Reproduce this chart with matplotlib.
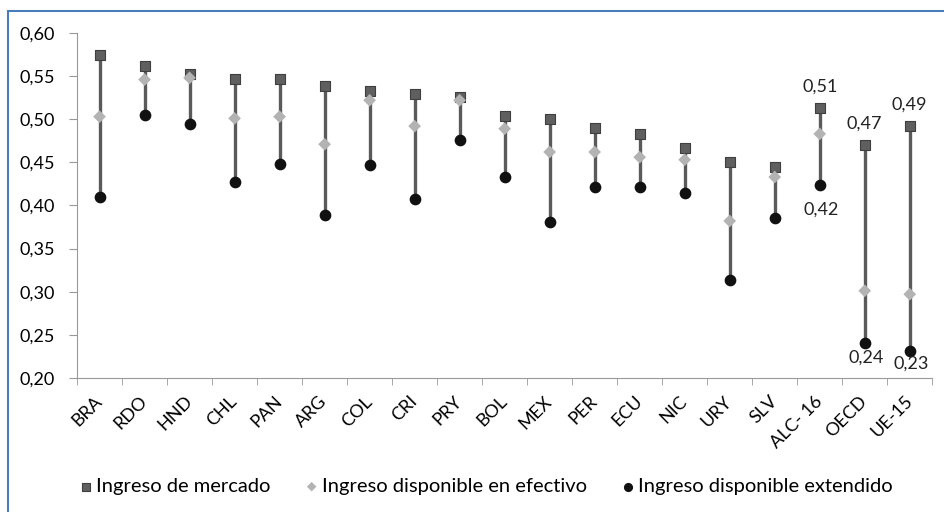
import matplotlib.pyplot as plt
from matplotlib.patches import Rectangle
from matplotlib.ticker import FuncFormatter, MultipleLocator
from matplotlib.transforms import ScaledTranslation

paises = ["BRA", "RDO", "HND", "CHL", "PAN", "ARG", "COL", "CRI", "PRY", "BOL",
          "MEX", "PER", "ECU", "NIC", "URY", "SLV", "ALC- 16", "OECD", "UE-15"]
mercado = [0.574, 0.562, 0.552, 0.547, 0.547, 0.538, 0.533, 0.529, 0.526, 0.504,
           0.500, 0.490, 0.483, 0.467, 0.450, 0.445, 0.513, 0.470, 0.492]
efectivo = [0.503, 0.546, 0.548, 0.501, 0.503, 0.471, 0.522, 0.492, 0.522, 0.489,
            0.462, 0.462, 0.456, 0.453, 0.382, 0.433, 0.483, 0.301, 0.297]
extendido = [0.410, 0.505, 0.495, 0.427, 0.448, 0.389, 0.447, 0.408, 0.476, 0.433,
             0.381, 0.421, 0.421, 0.414, 0.314, 0.386, 0.424, 0.240, 0.231]

plt.rcParams['font.family'] = ['Lato', 'DejaVu Sans']

fig = plt.figure(figsize=(9.45, 5.12), dpi=100)
ax = fig.add_axes([0.0815, 0.262, 0.905, 0.6735])

x = list(range(len(paises)))
hi = [max(a, b, c) for a, b, c in zip(mercado, efectivo, extendido)]
lo = [min(a, b, c) for a, b, c in zip(mercado, efectivo, extendido)]
ax.vlines(x, lo, hi, color='#5a5a5a', lw=2.4, zorder=1)
ax.scatter(x, mercado, marker='s', s=62, color='#5f5f5f', edgecolor='#3f3f3f',
           lw=0.8, zorder=3, label='Ingreso de mercado')
ax.scatter(x, efectivo, marker='D', s=42, color='#b3b3b3', edgecolor='none',
           zorder=4, label='Ingreso disponible en efectivo')
ax.scatter(x, extendido, marker='o', s=55, color='#111111', zorder=3,
           label='Ingreso disponible extendido')

fmt = lambda v: f"{v:.2f}".replace('.', ',')
# etiquetas de datos para ALC-16, OECD y UE-15
for i, off_bot in [(16, -18), (17, -10), (18, -9)]:
    ax.annotate(fmt(mercado[i]), (i, mercado[i]), xytext=(0, 10),
                textcoords='offset points', ha='center', va='bottom',
                fontsize=13, color='#222222')
    ax.annotate(fmt(extendido[i]), (i, extendido[i]), xytext=(1, off_bot),
                textcoords='offset points', ha='center', va='center',
                fontsize=13, color='#222222')

ax.set_xlim(-0.5, len(paises) - 0.5)
ax.set_ylim(0.20, 0.60)
ax.yaxis.set_major_locator(MultipleLocator(0.05))
ax.yaxis.set_major_formatter(FuncFormatter(lambda v, p: fmt(v)))
ax.set_xticks(x)
ax.set_xticklabels(paises, rotation=45, ha='right', va='center',
                   rotation_mode='anchor', fontsize=13)
shift = ScaledTranslation(7 / 100, 0, fig.dpi_scale_trans)
for lab in ax.get_xticklabels():
    lab.set_transform(lab.get_transform() + shift)
ax.set_xticks([i - 0.5 for i in range(len(paises) + 1)], minor=True)
ax.tick_params(axis='x', which='major', length=0, pad=15)
ax.tick_params(axis='x', which='minor', length=5, color='#999999')
ax.tick_params(axis='y', length=6, color='#999999', labelsize=13, pad=10)
for s in ['top', 'right']:
    ax.spines[s].set_visible(False)
for s in ['left', 'bottom']:
    ax.spines[s].set_color('#999999')

fig.legend(loc='center', bbox_to_anchor=(0.513, 0.05), ncol=3, frameon=False,
           fontsize=14.5, handletextpad=0.05, columnspacing=1.6,
           markerscale=0.75, handlelength=0.9)

fig.patches.append(Rectangle((8 / 945, -0.1), 1.2, 1.1 - 11 / 512,
                             transform=fig.transFigure, fill=False,
                             edgecolor='#4a7ebb', lw=1.5))

fig.savefig('out.png', dpi=100)
